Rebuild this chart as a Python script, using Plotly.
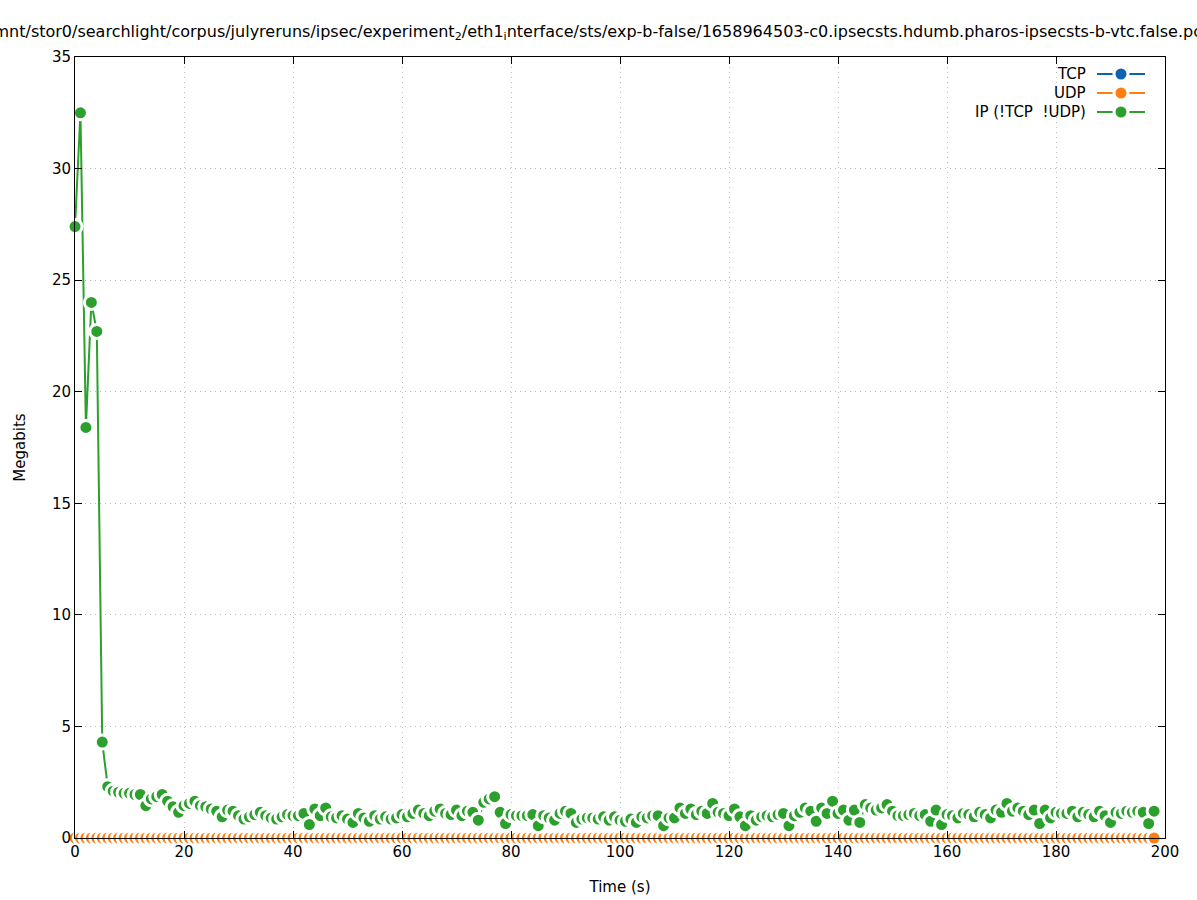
import plotly.graph_objects as go

# ---- data ----
time_s = list(range(0, 199))
ip_other = [
    27.4, 32.5, 18.4, 24.0, 22.7, 4.3, 2.3, 2.1, 2.05, 2.0,
    2.0, 1.95, 1.95, 1.45, 1.75, 1.85, 1.95, 1.65, 1.4, 1.15,
    1.45, 1.55, 1.65, 1.45, 1.4, 1.3, 1.2, 0.95, 1.25, 1.2,
    1.0, 0.85, 0.95, 1.05, 1.15, 1.0, 0.9, 0.85, 0.95, 1.05,
    1.0, 1.0, 1.1, 0.6, 1.3, 1.0, 1.35, 0.95, 0.9, 1.0,
    0.85, 0.7, 1.1, 0.9, 0.75, 1.0, 0.85, 0.95, 0.85, 0.9,
    1.05, 0.95, 1.1, 1.25, 1.1, 1.0, 1.2, 1.3, 1.1, 1.05,
    1.25, 1.0, 1.2, 1.15, 0.8, 1.6, 1.75, 1.85, 1.15, 0.65,
    1.05, 1.0, 1.0, 1.0, 1.05, 0.55, 1.0, 0.9, 0.8, 1.1,
    1.2, 1.1, 0.7, 0.85, 0.9, 0.9, 0.85, 0.95, 0.8, 0.95,
    0.8, 0.75, 0.85, 0.7, 0.95, 0.9, 1.0, 1.0, 0.55, 0.9,
    0.9, 1.35, 1.1, 1.3, 1.05, 1.2, 1.1, 1.55, 1.15, 1.1,
    1.0, 1.3, 0.95, 0.55, 1.0, 0.8, 0.95, 1.0, 0.95, 1.05,
    1.1, 0.55, 1.0, 1.15, 1.35, 1.2, 0.75, 1.35, 1.1, 1.65,
    1.1, 1.25, 0.8, 1.25, 0.7, 1.5, 1.35, 1.25, 1.35, 1.5,
    1.2, 1.0, 1.0, 1.05, 1.1, 1.0, 1.05, 0.75, 1.25, 0.6,
    1.05, 1.0, 0.9, 1.1, 1.05, 0.95, 1.15, 1.05, 0.9, 1.25,
    1.15, 1.55, 1.2, 1.35, 1.2, 1.05, 1.25, 0.65, 1.25, 0.9,
    1.15, 1.1, 1.1, 1.2, 0.95, 1.15, 1.05, 0.95, 1.2, 1.0,
    0.7, 1.15, 1.1, 1.2, 1.15, 1.2, 1.15, 0.65, 1.2,
]
tcp = [0.0] * len(time_s)
udp = [0.0] * len(time_s)

series_names = ["TCP", "UDP", "IP (!TCP\u00a0\u00a0!UDP)"]
series_colors = ["#0b62b0", "#ff7f0e", "#2ca02c"]
series_values = [tcp, udp, ip_other]

x_ticks = list(range(0, 201, 20))
y_ticks = list(range(0, 36, 5))

title_text = ("/mnt/stor0/searchlight/corpus/julyreruns/ipsec/experiment<sub>2</sub>/"
              "eth1<sub>i</sub>nterface/sts/exp-b-false/1658964503-c0.ipsecsts.hdumb."
              "pharos-ipsecsts-b-vtc.false.pcap")

FONT = "DejaVu Sans, sans-serif"
W, H = 1197, 900
# plot box in window pixels: x 75..1165, y 57..838
PX0, PX1, PY0, PY1 = 75, 1165, 57, 838
ML, MT = PX0, PY0
MR, MB = W - PX1, H - PY1
PW, PH = PX1 - PX0, PY1 - PY0

MSIZE, MRING = 14, 3

fig = go.Figure()

for name, color, vals in zip(series_names, series_colors, series_values):
    fig.add_trace(go.Scatter(
        x=time_s, y=vals, mode="lines+markers", name=name,
        line=dict(color=color, width=2),
        marker=dict(symbol="circle", size=MSIZE, color=color,
                    line=dict(color="white", width=MRING)),
        cliponaxis=False, showlegend=False,
    ))

# legend drawn on an auxiliary unit axis (symbols to the right of text, gnuplot-style)
leg_rows_px = [74, 93, 112]
for name, color, py in zip(series_names, series_colors, leg_rows_px):
    yy = (PY1 - py) / PH
    x0 = (1097 - PX0) / PW
    x1 = (1145 - PX0) / PW
    xm = (1121 - PX0) / PW
    fig.add_trace(go.Scatter(
        x=[x0, x1], y=[yy, yy], mode="lines", xaxis="x2", yaxis="y2",
        line=dict(color=color, width=2),
        cliponaxis=False, showlegend=False, hoverinfo="skip",
    ))
    fig.add_trace(go.Scatter(
        x=[xm], y=[yy], mode="markers", xaxis="x2", yaxis="y2",
        marker=dict(size=MSIZE, color=color, line=dict(color="white", width=MRING)),
        cliponaxis=False, showlegend=False, hoverinfo="skip",
    ))
    fig.add_annotation(
        x=(1088 - PX0) / PW, y=yy, xref="x2", yref="y2",
        text=name, showarrow=False, xanchor="right", yanchor="middle",
        font=dict(family=FONT, size=15, color="black"),
    )

axis_common = dict(
    showline=True, linecolor="black", linewidth=1, mirror="ticks",
    ticks="inside", ticklen=7, tickcolor="black", tickwidth=1,
    showgrid=True, gridcolor="#bdbdbd", gridwidth=1, griddash="1px,4px",
    zeroline=False, tickfont=dict(family=FONT, size=15, color="black"),
)

fig.update_layout(
    width=W, height=H,
    margin=dict(l=ML, r=MR, t=MT, b=MB, autoexpand=False),
    paper_bgcolor="white", plot_bgcolor="white",
    showlegend=False,
    title=dict(text=title_text, x=605 / W, xanchor="center",
               y=1 - 31 / H, yanchor="middle", xref="container", yref="container",
               font=dict(family=FONT, size=16, color="black")),
    xaxis=dict(range=[0, 200], tickvals=x_ticks,
               title=dict(text="Time (s)", standoff=21,
                          font=dict(family=FONT, size=15, color="black")),
               **axis_common),
    yaxis=dict(range=[0, 35], tickvals=y_ticks,
               title=dict(text="Megabits", standoff=22,
                          font=dict(family=FONT, size=15, color="black")),
               **axis_common),
    xaxis2=dict(range=[0, 1], overlaying="x", visible=False, fixedrange=True),
    yaxis2=dict(range=[0, 1], overlaying="y", visible=False, fixedrange=True),
)

fig.write_html("out.html", config={"displayModeBar": False},
               post_script="document.body.style.margin='0px';document.body.style.overflow='hidden';")
